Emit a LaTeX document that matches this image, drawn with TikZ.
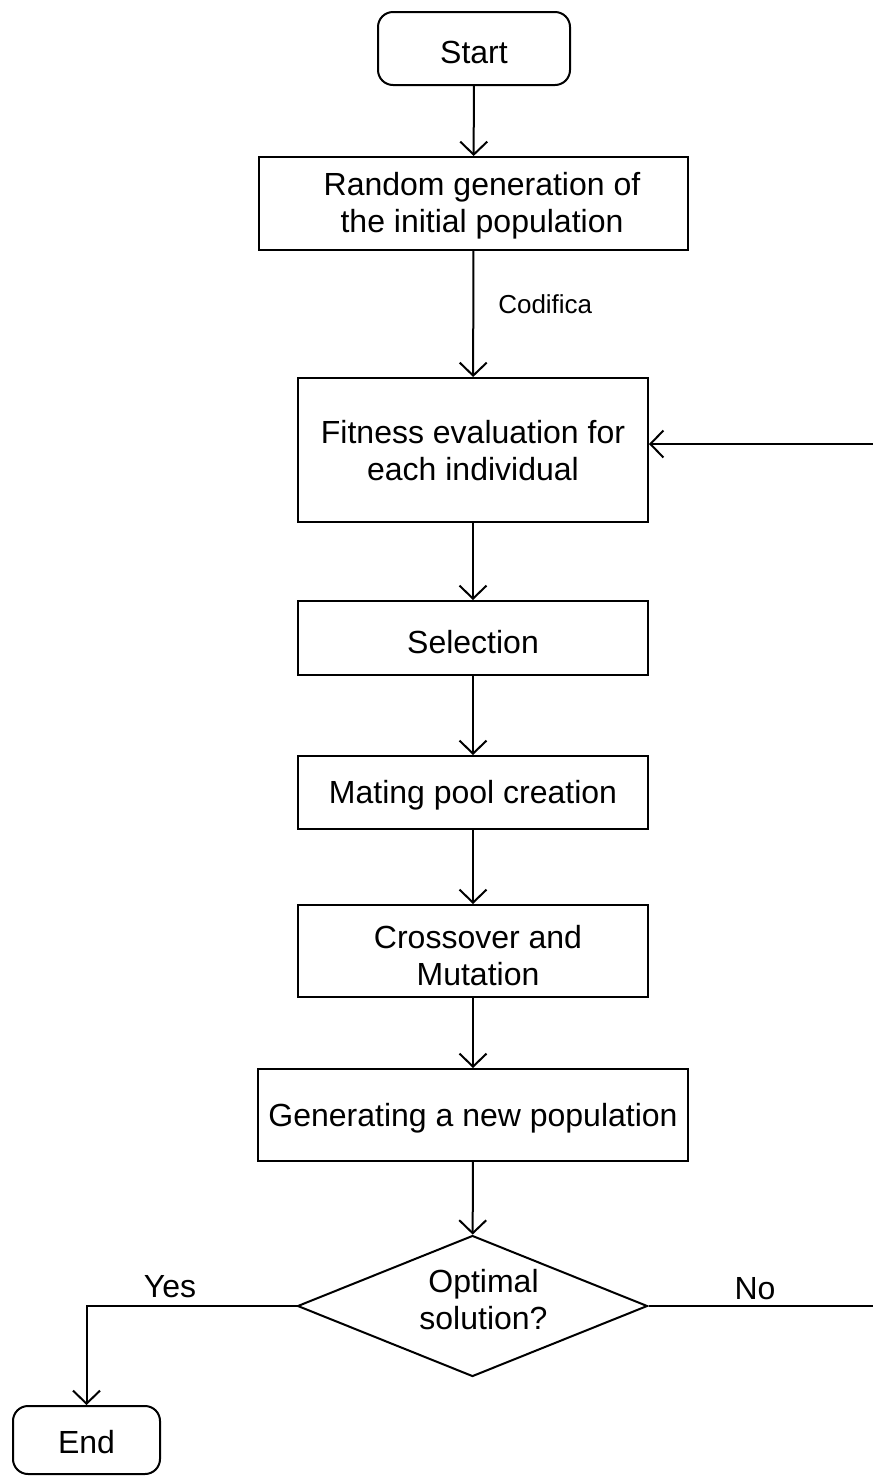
\documentclass[tikz,border=0pt]{standalone}
\usepackage{fontspec}
\setmainfont{Liberation Sans}
\usetikzlibrary{arrows.meta,shapes.geometric}
\newcommand\tsx[1]{\rule{0pt}{#1pt}}
\newcommand\bsx[1]{\rule[-#1pt]{0pt}{0pt}}
\begin{document}
\begin{tikzpicture}[x=1pt,y=-1pt,
  line width=2pt,
  every node/.style={font=\fontsize{32}{37}\selectfont, align=center, inner sep=0pt},
  procbox/.style={draw, rectangle, line width=2pt},
  termbox/.style={draw, rectangle, rounded corners=15pt, line width=2pt},
  decbox/.style={draw, diamond, aspect=2.5, line width=2pt},
  flow/.style={-{Straight Barb[length=13pt,width=27pt,line width=2pt]}},
  lbl/.style={font=\fontsize{32}{37}\selectfont, anchor=base},
  smalllbl/.style={font=\fontsize{26}{30}\selectfont}
]
\useasboundingbox (0,0) rectangle (873,1476);
\node[termbox, minimum width=192pt, minimum height=73pt] (start) at (474,48.5) {\tsx{37}Start\bsx{8}};
\node[procbox, minimum width=429pt, minimum height=93pt] (rand) at (473.5,203.5) {\hspace*{17pt}\tsx{28}Random generation of\\\hspace*{17pt}the initial population\bsx{8}};
\node[procbox, minimum width=350pt, minimum height=144pt] (fit) at (473,450) {\tsx{31}Fitness evaluation for\\each individual\bsx{8}};
\node[procbox, minimum width=350pt, minimum height=74pt] (sel) at (473,638) {\tsx{38}Selection\bsx{8}};
\node[procbox, minimum width=350pt, minimum height=73pt] (mat) at (473,792.5) {\tsx{29}Mating pool creation\bsx{8}};
\node[procbox, minimum width=350pt, minimum height=92pt] (cross) at (473,951) {\hspace*{10pt}\tsx{39}Crossover and\\\hspace*{10pt}Mutation\bsx{8}};
\node[procbox, minimum width=430pt, minimum height=92pt] (gen) at (473,1115) {\tsx{30}Generating a new population\bsx{8}};
\node[decbox, minimum width=350pt, minimum height=141pt] (dec) at (472.5,1306) {\hspace*{22pt}\tsx{24}Optimal\\\hspace*{22pt}solution?\bsx{15}};
\node[termbox, minimum width=147pt, minimum height=68pt] (end) at (86.5,1440) {\tsx{34}End\bsx{8}};

\coordinate (rightturn) at (900,1306);
\coordinate (fitin) at ([yshift=6pt]fit.east);

\draw[flow] (start) -- (rand);
\draw[flow] (rand) -- node[smalllbl, midway, anchor=base west, xshift=24pt, yshift=1pt] {Codifica} (fit);
\draw[flow] (fit) -- (sel);
\draw[flow] (sel) -- (mat);
\draw[flow] (mat) -- (cross);
\draw[flow] (cross) -- (gen);
\draw[flow] (gen) -- (dec);
\draw[flow] (dec.west) -| (end.north);
\draw[flow] (dec.east) -- (rightturn) |- (fitin);
\node[lbl] (yes) at (170,1297) {Yes};
\node[lbl] (no) at (755,1299) {No};
\end{tikzpicture}
\end{document}
